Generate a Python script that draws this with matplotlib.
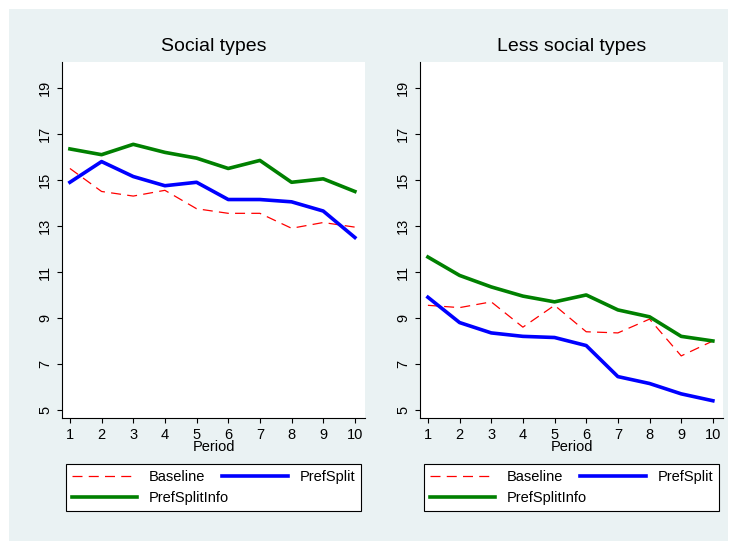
import matplotlib.pyplot as plt
from matplotlib.lines import Line2D

plt.rcParams['font.family'] = ['Liberation Sans', 'DejaVu Sans']

periods = list(range(1, 11))
social_baseline = [15.5, 14.5, 14.3, 14.55, 13.75, 13.55, 13.55, 12.9, 13.15, 12.95]
social_prefsplit = [14.9, 15.8, 15.15, 14.75, 14.9, 14.15, 14.15, 14.05, 13.65, 12.5]
social_info = [16.35, 16.1, 16.55, 16.2, 15.95, 15.5, 15.85, 14.9, 15.05, 14.5]
less_baseline = [9.55, 9.45, 9.7, 8.6, 9.55, 8.4, 8.35, 8.95, 7.35, 8.0]
less_prefsplit = [9.9, 8.8, 8.35, 8.2, 8.15, 7.8, 6.45, 6.15, 5.7, 5.4]
less_info = [11.65, 10.85, 10.35, 9.95, 9.7, 10.0, 9.35, 9.05, 8.2, 8.0]
yticks = [5, 7, 9, 11, 13, 15, 17, 19]

bg = '#EAF2F3'
fig = plt.figure(figsize=(7.37, 5.41), dpi=100)
fig.patch.set_facecolor('white')
fig.add_artist(plt.Rectangle((9/737, 0), 1 - 18/737, 1 - 9/541, transform=fig.transFigure,
                             facecolor=bg, edgecolor='none', zorder=-10))

panels = [
    ('Social types', social_baseline, social_prefsplit, social_info, 62, 365),
    ('Less social types', less_baseline, less_prefsplit, less_info, 420, 723),
]
for title, b, p, i, x0, x1 in panels:
    ax = fig.add_axes([x0/737, 1 - 418/541, (x1 - x0)/737, (418 - 62)/541])
    ax.plot(periods, b, color='red', lw=0.9, dashes=(8, 5), label='Baseline')
    ax.plot(periods, p, color='blue', lw=2.6, label='PrefSplit')
    ax.plot(periods, i, color='green', lw=2.6, label='PrefSplitInfo')
    ax.set_xlim(0.75, 10.32)
    ax.set_ylim(4.65, 20.13)
    ax.set_yticks(yticks)
    ax.set_yticklabels([str(t) for t in yticks], rotation=90, va='center')
    ax.set_xticks(periods)
    for s in ['top', 'right']:
        ax.spines[s].set_visible(False)
    ax.tick_params(labelsize=10.5)
    ax.set_xlabel('Period', fontsize=10.5, labelpad=-1)
    ax.set_title(title, fontsize=14, pad=8)
    handles = [Line2D([], [], color='red', lw=0.9, dashes=(8, 5)),
               Line2D([], [], color='green', lw=2.6),
               Line2D([], [], color='blue', lw=2.6)]
    leg = fig.legend(handles, ['Baseline', 'PrefSplitInfo', 'PrefSplit'], ncol=2,
                     loc='center left', bbox_to_anchor=((x0 + 4)/737, 1 - 512/541,
                                                       (x1 - x0 - 8)/737, 49/541),
                     mode='expand', fancybox=False, edgecolor='black', fontsize=10.5,
                     handlelength=4.5, columnspacing=4, borderaxespad=0, framealpha=1)
    leg.get_frame().set_linewidth(0.8)

fig.savefig('out.png', dpi=100)
